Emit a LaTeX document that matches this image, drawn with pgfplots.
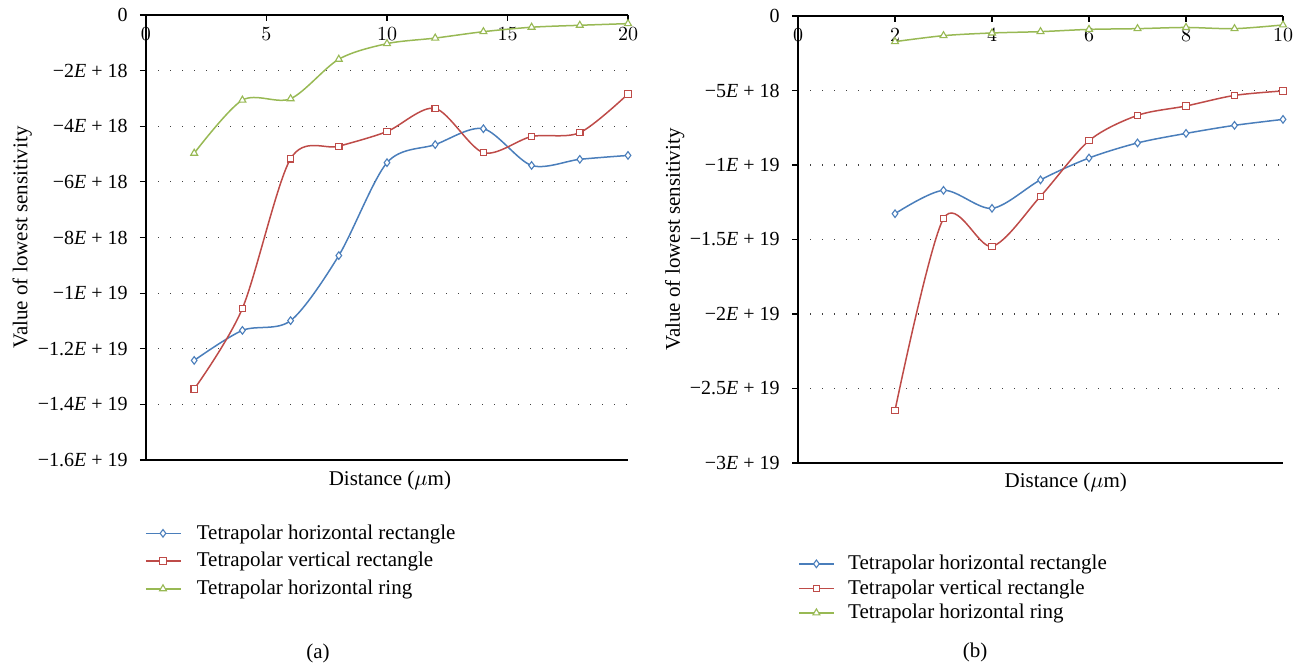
\documentclass[border=0pt]{standalone}
\usepackage{pgfplots}
\pgfplotsset{compat=1.18}
\usepackage{fontspec}
\setmainfont{Liberation Serif}
\definecolor{cblue}{HTML}{4A7EBB}
\definecolor{cred}{HTML}{BE4B48}
\definecolor{cgreen}{HTML}{98B954}
\pgfplotsset{
  myaxis/.style={
    scale only axis,
    anchor=south west,
    clip=false,
    axis line style={draw=none},
    xtick pos=upper,
    xticklabel pos=upper,
    ytick pos=left,
    tick align=inside,
    major tick length=3pt,
    ytick style={xshift=-3pt, black, line width=0.6pt},
    xtick style={black, line width=0.6pt},
    xticklabel style={anchor=north, yshift=-2.5pt},
    yticklabel style={xshift=-5.5pt},
    tick label style={font=\fontsize{10}{12}\selectfont},
    label style={font=\fontsize{10.5}{12.6}\selectfont},
    ymajorgrids,
    major grid style={black!75, dash pattern=on 0.6pt off 5.4pt, line width=0.6pt},
    legend cell align=left,
    legend style={draw=none, fill=none, anchor=north west, column sep=6pt,
      font=\fontsize{10.5}{12.6}\selectfont},
    every axis plot/.append style={line width=0.75pt, smooth, tension=0.5},
  },
  sb/.style={cblue, mark=diamond*, mark size=1.9pt, mark options={fill=white, solid, line width=0.55pt}},
  sr/.style={cred, mark=square*, mark size=1.6pt, mark options={fill=white, solid, line width=0.55pt}},
  sg/.style={cgreen, mark=triangle*, mark size=2pt, mark options={fill=white, solid, line width=0.55pt}},
}
\begin{document}
\fontsize{10.5}{12.6}\selectfont
\begin{tikzpicture}
\path[use as bounding box] (0,0) rectangle (652.5pt,333.5pt);
% ---------- (a) ----------
\begin{axis}[myaxis,
  at={(73pt,103.5pt)}, width=241pt, height=222.5pt,
  xmin=0, xmax=20, ymin=-16, ymax=0,
  xtick={0,5,10,15,20},
  ytick={-16,-14,-12,-10,-8,-6,-4,-2,0},
  yticklabels={−1.6\textit{E} + 19,−1.4\textit{E} + 19,−1.2\textit{E} + 19,−1\textit{E} + 19,−8\textit{E} + 18,−6\textit{E} + 18,−4\textit{E} + 18,−2\textit{E} + 18,0},
  xlabel={Distance ($\mu$m)},
  ylabel={Value of lowest sensitivity},
  xlabel style={at={(axis description cs:0.506,-0.046)}, anchor=center},
  ylabel style={at={(axis description cs:-0.257,0.5)}, anchor=center},
  legend style={at={(axis description cs:-0.015,-0.126)}, row sep=1pt},
]
\draw[black, line width=0.75pt] (rel axis cs:1,1) -- (rel axis cs:0,1) -- (rel axis cs:0,0) -- (rel axis cs:1,0);
\addplot[sb] coordinates {(2,-12.42)(4,-11.34)(6,-10.99)(8,-8.65)(10,-5.31)(12,-4.66)(14,-4.09)(16,-5.41)(18,-5.19)(20,-5.05)};
\addlegendentry{Tetrapolar horizontal rectangle}
\addplot[sr] coordinates {(2,-13.45)(4,-10.55)(6,-5.17)(8,-4.72)(10,-4.19)(12,-3.36)(14,-4.95)(16,-4.37)(18,-4.23)(20,-2.84)};
\addlegendentry{Tetrapolar vertical rectangle}
\addplot[sg] coordinates {(2,-4.97)(4,-3.06)(6,-3.01)(8,-1.59)(10,-1.03)(12,-0.83)(14,-0.60)(16,-0.44)(18,-0.37)(20,-0.31)};
\addlegendentry{Tetrapolar horizontal ring}
\end{axis}
% ---------- (b) ----------
\begin{axis}[myaxis,
  at={(399pt,102pt)}, width=242.5pt, height=223.5pt,
  xmin=0, xmax=10, ymin=-30, ymax=0,
  xtick={0,2,4,6,8,10},
  ytick={-30,-25,-20,-15,-10,-5,0},
  yticklabels={−3\textit{E} + 19,−2.5\textit{E} + 19,−2\textit{E} + 19,−1.5\textit{E} + 19,−1\textit{E} + 19,−5\textit{E} + 18,0},
  xlabel={Distance ($\mu$m)},
  ylabel={Value of lowest sensitivity},
  xlabel style={at={(axis description cs:0.552,-0.0445)}, anchor=center},
  ylabel style={at={(axis description cs:-0.254,0.5)}, anchor=center},
  legend style={at={(axis description cs:-0.012,-0.187)}, row sep=-0.6pt, column sep=5pt},
]
\draw[black, line width=0.75pt] (rel axis cs:1,1) -- (rel axis cs:0,1) -- (rel axis cs:0,0) -- (rel axis cs:1,0);
\addplot[sb] coordinates {(2,-13.27)(3,-11.70)(4,-12.91)(5,-11.00)(6,-9.53)(7,-8.52)(8,-7.88)(9,-7.34)(10,-6.94)};
\addlegendentry{Tetrapolar horizontal rectangle}
\addplot[sr] coordinates {(2,-26.47)(3,-13.60)(4,-15.46)(5,-12.10)(6,-8.37)(7,-6.67)(8,-6.04)(9,-5.33)(10,-5.03)};
\addlegendentry{Tetrapolar vertical rectangle}
\addplot[sg] coordinates {(2,-1.72)(3,-1.32)(4,-1.14)(5,-1.05)(6,-0.90)(7,-0.85)(8,-0.77)(9,-0.85)(10,-0.60)};
\addlegendentry{Tetrapolar horizontal ring}
\end{axis}
\node at (159pt,7pt) {(a)};
\node at (487.5pt,7.5pt) {(b)};
\end{tikzpicture}
\end{document}
